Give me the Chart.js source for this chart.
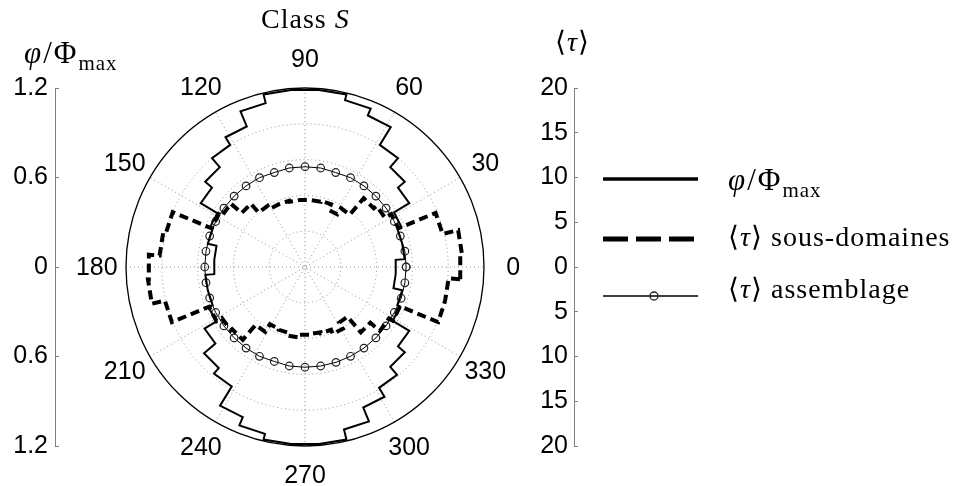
<!DOCTYPE html>
<html>
<head>
<meta charset="utf-8">
<script src="https://cdn.jsdelivr.net/npm/chart.js@4.4.0/dist/chart.umd.min.js"></script>
<style>
  body { margin: 0; background: #fff; }
  #wrap { position: relative; width: 962px; height: 486px; }
  #polar { position: absolute; left: 0; top: 0; }
  .tex {
    position: absolute;
    font-family: "Liberation Serif", serif;
    font-size: 28px;
    line-height: 1;
    letter-spacing: 1px;
    color: #000;
    white-space: nowrap;
  }
  .tex sub { font-size: 19px; vertical-align: baseline; position: relative; top: 6px; letter-spacing: 0; }
  .tex.big { font-size: 31px; letter-spacing: 2px; }
  .tex.big sub { font-size: 21px; top: 7px; letter-spacing: 1px; }
  .sample { position: absolute; left: 600px; width: 100px; height: 20px; }
</style>
</head>
<body>
<div id="wrap">
  <canvas id="polar" width="962" height="486"></canvas>
  <div class="tex" style="left:261px; top:5px;">Class <i>S</i></div>
  <div class="tex big" style="left:24px; top:37px;"><i>φ</i>/Φ<sub>max</sub></div>
  <div class="tex" style="left:555px; top:28px;">⟨<i>τ</i>⟩</div>

  <svg class="sample" style="top:169px"><line x1="3" y1="10" x2="98" y2="10" stroke="#000" stroke-width="3.5"/></svg>
  <div class="tex big" style="left:728px; top:164px;"><i>φ</i>/Φ<sub>max</sub></div>
  <svg class="sample" style="top:229px"><line x1="3" y1="10" x2="98" y2="10" stroke="#000" stroke-width="5" stroke-dasharray="25 8"/></svg>
  <div class="tex" style="left:728px; top:223px;">⟨<i>τ</i>⟩ sous-domaines</div>
  <svg class="sample" style="top:286px"><line x1="3" y1="10" x2="98" y2="10" stroke="#000" stroke-width="1.5"/><circle cx="54" cy="10" r="4" fill="none" stroke="#222" stroke-width="1.3"/></svg>
  <div class="tex" style="left:728px; top:275px;">⟨<i>τ</i>⟩ assemblage</div>
</div>

<script>
// angular bins (degrees), 9 degree steps
const angles = [0, 9, 18, 27, 36, 45, 54, 63, 72, 81,
  90, 99, 108, 117, 126, 135, 144, 153, 162, 171,
  180, 189, 198, 207, 216, 225, 234, 243, 252, 261,
  270, 279, 288, 297, 306, 315, 324, 333, 342, 351];

// phi / Phi_max per bin
const phiValues = [0.61, 0.67, 0.67, 0.70, 0.82, 0.88, 0.96, 1.10, 1.15, 1.19,
  1.19, 1.19, 1.13, 1.02, 0.96, 0.88, 0.82, 0.69, 0.67, 0.61,
  0.61, 0.67, 0.67, 0.70, 0.79, 0.89, 0.94, 1.09, 1.15, 1.19,
  1.19, 1.19, 1.12, 1.02, 0.95, 0.88, 0.82, 0.69, 0.67, 0.61];

// <tau> sous-domaines per bin
const tauSubdomains = [17.4, 17.6, 15.8, 11.3, 10.5, 10.1, 7.7, 6.9, 7.6, 7.5,
  7.5, 7.5, 7.6, 7.6, 8.0, 9.3, 10.9, 11.3, 16.0, 16.3,
  17.5, 17.6, 16.1, 11.6, 10.9, 10.7, 8.5, 7.5, 7.6, 7.9,
  7.6, 7.5, 7.6, 8.1, 7.3, 9.6, 11.0, 11.5, 16.1, 16.1];

// <tau> assemblage at each angle
const tauAssembly = [11.3, 11.3, 11.2, 11.2, 11.2, 11.2, 11.2, 11.2, 11.1, 11.2,
  11.2, 11.2, 11.1, 11.2, 11.2, 11.2, 11.2, 11.2, 11.2, 11.2,
  11.2, 11.2, 11.2, 11.2, 11.2, 11.2, 11.2, 11.2, 11.1, 11.2,
  11.2, 11.2, 11.2, 11.2, 11.2, 11.2, 11.2, 11.2, 11.3, 11.3];

const phiTicks = [-1.2, -0.6, 0, 0.6, 1.2];
const tauTicks = [-20, -15, -10, -5, 0, 5, 10, 15, 20];
const angleLabels = [0, 30, 60, 90, 120, 150, 180, 210, 240, 270, 300, 330];
const ringFractions = [0.2, 0.4, 0.6, 0.8];

const PHI_MAX = 1.2;
const TAU_MAX = 20;
const BIN_HALF = 4.5;

// plot box in pixels, center of the polar disc at CENTER_X
const PLOT = { left: 55, right: 574, top: 88, bottom: 446 };
const CENTER_X = 305;
const pxPerUnit = (PLOT.bottom - PLOT.top) / (2 * PHI_MAX);
const xMin = (PLOT.left - CENTER_X) / pxPerUnit;
const xMax = (PLOT.right - CENTER_X) / pxPerUnit;
const tauScale = TAU_MAX / PHI_MAX;

const rad = d => d * Math.PI / 180;

function stepOutline(values) {
  const pts = [];
  angles.forEach((a, i) => {
    [a - BIN_HALF, a + BIN_HALF].forEach(t => {
      pts.push({ x: values[i] * Math.cos(rad(t)), y: values[i] * Math.sin(rad(t)) });
    });
  });
  pts.push(pts[0]);
  return pts;
}

function pointLoop(values) {
  const pts = angles.map((a, i) => ({ x: values[i] * Math.cos(rad(a)), y: values[i] * Math.sin(rad(a)) }));
  pts.push(pts[0]);
  return pts;
}

const polarGrid = {
  id: 'polarGrid',
  beforeDatasetsDraw(chart) {
    const { ctx, scales: { x, y } } = chart;
    const cx = x.getPixelForValue(0);
    const cy = y.getPixelForValue(0);
    const R = cy - y.getPixelForValue(PHI_MAX);
    ctx.save();
    ctx.strokeStyle = '#909090';
    ctx.lineWidth = 1;
    ctx.setLineDash([1, 3]);
    ringFractions.forEach(f => {
      ctx.beginPath();
      ctx.arc(cx, cy, R * f, 0, 2 * Math.PI);
      ctx.stroke();
    });
    angleLabels.slice(0, 6).forEach(a => {
      ctx.beginPath();
      ctx.moveTo(cx - R * Math.cos(rad(a)), cy + R * Math.sin(rad(a)));
      ctx.lineTo(cx + R * Math.cos(rad(a)), cy - R * Math.sin(rad(a)));
      ctx.stroke();
    });
    ctx.setLineDash([]);
    ctx.strokeStyle = '#000';
    ctx.lineWidth = 1.3;
    ctx.beginPath();
    ctx.arc(cx, cy, R, 0, 2 * Math.PI);
    ctx.stroke();

    ctx.fillStyle = '#000';
    ctx.font = '25px "Liberation Sans", Arial, sans-serif';
    ctx.textAlign = 'center';
    ctx.textBaseline = 'middle';
    const rl = R * 1.163;
    angleLabels.forEach(a => {
      ctx.fillText(String(a), cx + rl * Math.cos(rad(a)), cy - rl * Math.sin(rad(a)) + 1);
    });
    ctx.restore();
  }
};

const tickFont = { family: '"Liberation Sans", Arial, sans-serif', size: 25 };

new Chart(document.getElementById('polar'), {
  type: 'scatter',
  data: {
    datasets: [
      {
        label: 'phi/Phi_max',
        data: stepOutline(phiValues),
        xAxisID: 'x', yAxisID: 'y',
        showLine: true, borderColor: '#000', borderWidth: 2,
        pointRadius: 0, clip: false
      },
      {
        label: '<tau> sous-domaines',
        data: stepOutline(tauSubdomains),
        xAxisID: 'xt', yAxisID: 'tau',
        showLine: true, borderColor: '#000', borderWidth: 4, borderDash: [9, 5],
        pointRadius: 0, clip: false
      },
      {
        label: '<tau> assemblage',
        data: pointLoop(tauAssembly),
        xAxisID: 'xt', yAxisID: 'tau',
        showLine: true, borderColor: '#000', borderWidth: 1,
        pointRadius: 3.8, pointBorderWidth: 1.2, pointBorderColor: '#222',
        pointBackgroundColor: 'rgba(0,0,0,0)', clip: false
      }
    ]
  },
  options: {
    responsive: false,
    animation: false,
    layout: { padding: { left: 0, right: 962 - PLOT.right, top: PLOT.top, bottom: 486 - PLOT.bottom } },
    plugins: { legend: { display: false }, tooltip: { enabled: false } },
    scales: {
      x: { type: 'linear', display: false, min: xMin, max: xMax },
      xt: { type: 'linear', display: false, min: xMin * tauScale, max: xMax * tauScale },
      y: {
        type: 'linear', position: 'left', min: -PHI_MAX, max: PHI_MAX,
        afterFit: s => { s.width = PLOT.left; },
        afterBuildTicks: s => { s.ticks = phiTicks.map(v => ({ value: v })); },
        ticks: { color: '#000', font: tickFont, padding: 11, callback: v => String(Math.abs(v)) },
        grid: { drawOnChartArea: false, tickLength: -4, color: '#808080' },
        border: { color: '#808080', width: 1 }
      },
      tau: {
        type: 'linear', position: 'right', min: -TAU_MAX, max: TAU_MAX,
        afterFit: s => { s.width = 0; },
        afterBuildTicks: s => { s.ticks = tauTicks.map(v => ({ value: v })); },
        ticks: { color: '#000', font: tickFont, mirror: true, padding: -6, callback: v => String(Math.abs(v)) },
        grid: { drawOnChartArea: false, tickLength: 4, color: '#808080' },
        border: { color: '#808080', width: 1 }
      }
    }
  },
  plugins: [polarGrid]
});
</script>
</body>
</html>
